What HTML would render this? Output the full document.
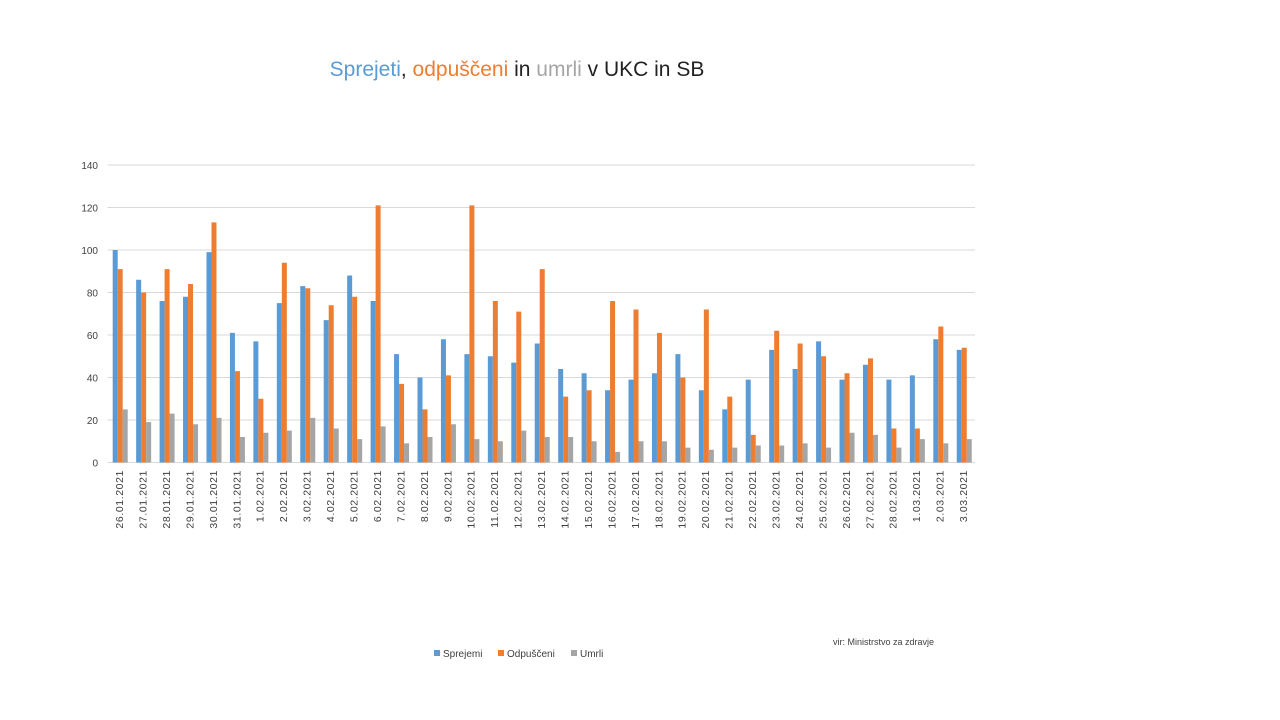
<!DOCTYPE html>
<html><head><meta charset="utf-8"><style>
html,body{margin:0;padding:0;background:#fff;}
svg{display:block;font-family:"Liberation Sans",sans-serif;}
</style></head><body>
<svg width="1280" height="720" viewBox="0 0 1280 720" xmlns="http://www.w3.org/2000/svg">
<text x="517" y="76" font-size="21" text-anchor="middle"><tspan fill="#5B9BD5">Sprejeti</tspan><tspan fill="#222">, </tspan><tspan fill="#ED7D31">odpuščeni</tspan><tspan fill="#222"> in </tspan><tspan fill="#A5A5A5">umrli</tspan><tspan fill="#222"> v UKC in SB</tspan></text>
<g id="c"></g>
<g font-size="10" fill="#404040">
<rect x="434" y="650" width="6" height="6" fill="#5B9BD5"/><text x="443" y="657">Sprejemi</text>
<rect x="498" y="650" width="6" height="6" fill="#ED7D31"/><text x="507" y="657">Odpuščeni</text>
<rect x="571" y="650" width="6" height="6" fill="#A5A5A5"/><text x="580" y="657">Umrli</text>
<text x="833" y="645" font-size="9">vir: Ministrstvo za zdravje</text>
</g>
</svg>
<script>
const s=[100,86,76,78,99,61,57,75,83,67,88,76,51,40,58,51,50,47,56,44,42,34,39,42,51,34,25,39,53,44,57,39,46,39,41,58,53];
const o=[91,80,91,84,113,43,30,94,82,74,78,121,37,25,41,121,76,71,91,31,34,76,72,61,40,72,31,13,62,56,50,42,49,16,16,64,54];
const u=[25,19,23,18,21,12,14,15,21,16,11,17,9,12,18,11,10,15,12,12,10,5,10,10,7,6,7,8,8,9,7,14,13,7,11,9,11];
const lab=[];
for(let d=26;d<=31;d++)lab.push(d+".01.2021");
for(let d=1;d<=28;d++)lab.push(d+".02.2021");
for(let d=1;d<=3;d++)lab.push(d+".03.2021");
const y0=462.5,sc=(462.5-165)/140,x0=107.5,cw=(975-107.5)/37;
let h='';
for(let v=0;v<=140;v+=20){const y=y0-v*sc;
h+=`<line x1="${x0}" x2="975" y1="${y}" y2="${y}" stroke="#d9d9d9" stroke-width="1"/>`;
h+=`<text x="98" y="${y+4}" font-size="10" fill="#404040" text-anchor="end">${v}</text>`;}
for(let i=0;i<37;i++){const b=x0+i*cw+5.2;
[[s,'#5B9BD5'],[o,'#ED7D31'],[u,'#A5A5A5']].forEach((a,k)=>{const hh=a[0][i]*sc;
h+=`<rect x="${b+k*5}" y="${y0-hh}" width="5" height="${hh}" fill="${a[1]}"/>`;});
const cx=x0+i*cw+cw/2+3.8;
h+=`<text transform="translate(${cx},470) rotate(-90)" font-size="10.5" letter-spacing="0.6" fill="#404040" text-anchor="end">${lab[i]}</text>`;}
document.getElementById('c').innerHTML=h;
</script>
</body></html>
